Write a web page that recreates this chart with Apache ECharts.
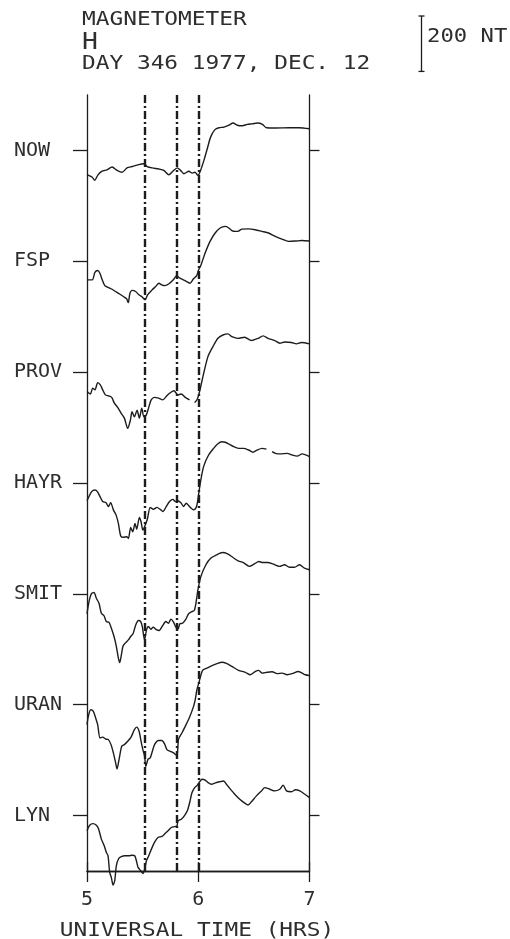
<!DOCTYPE html>
<html><head><meta charset="utf-8">
<script src="https://cdn.jsdelivr.net/npm/echarts@6/dist/echarts.min.js"></script>
<style>html,body{margin:0;padding:0;background:#fff}#c{width:510px;height:939px}</style>
</head><body><div id="c"></div>
<script>
// ---- data (hours UT, H deviation in nT from each station's baseline) ----
const stationNames = ['NOW', 'FSP', 'PROV', 'HAYR', 'SMIT', 'URAN', 'LYN'];
const stationNOW = [[5.00,-87],[5.045,-96],[5.069,-108],[5.099,-88],[5.135,-75],[5.18,-70],[5.225,-60],[5.27,-72],[5.315,-79],[5.36,-63],[5.405,-58],[5.465,-51],[5.511,-48],[5.541,-58],[5.586,-63],[5.646,-67],[5.691,-72],[5.736,-88],[5.772,-75],[5.811,-63],[5.841,-72],[5.871,-84],[5.916,-75],[5.946,-82],[5.97,-79],[5.997,-90],[6.021,-72],[6.051,-36],[6.081,6],[6.111,48],[6.15,75],[6.186,82],[6.231,84],[6.276,91],[6.312,99],[6.351,91],[6.396,89],[6.441,94],[6.486,96],[6.532,99],[6.577,94],[6.613,82],[6.697,81],[6.817,82],[6.907,82],[7.0,78]];
const stationFSP = [[5.0,-67],[5.047,-67],[5.071,-40],[5.095,-33],[5.116,-43],[5.137,-67],[5.161,-88],[5.221,-100],[5.281,-115],[5.326,-127],[5.356,-135],[5.371,-149],[5.386,-115],[5.407,-105],[5.437,-109],[5.467,-121],[5.497,-129],[5.521,-139],[5.545,-121],[5.581,-105],[5.617,-91],[5.647,-79],[5.671,-85],[5.701,-88],[5.737,-81],[5.776,-67],[5.806,-52],[5.836,-61],[5.866,-67],[5.896,-73],[5.926,-79],[5.956,-64],[5.986,-52],[6.001,-33],[6.025,-13],[6.061,29],[6.106,72],[6.152,102],[6.197,120],[6.242,126],[6.272,121],[6.302,111],[6.332,108],[6.362,109],[6.392,116],[6.452,117],[6.512,114],[6.572,108],[6.632,102],[6.692,90],[6.752,80],[6.812,72],[6.872,73],[6.932,75],[7.0,73]];
const stationPROV = [[5.0,-70],[5.03,-79],[5.051,-58],[5.072,-64],[5.096,-38],[5.12,-46],[5.141,-64],[5.165,-82],[5.195,-86],[5.222,-91],[5.246,-112],[5.276,-127],[5.306,-148],[5.336,-166],[5.366,-203],[5.39,-173],[5.405,-143],[5.426,-161],[5.45,-137],[5.471,-166],[5.492,-130],[5.511,-161],[5.532,-155],[5.553,-130],[5.577,-100],[5.607,-91],[5.643,-94],[5.682,-100],[5.712,-88],[5.742,-76],[5.781,-67],[5.817,-82],[5.847,-79],[5.883,-91],[5.922,-100],[5.945,null],[5.967,-110],[5.991,-98],[6.012,-70],[6.042,-16],[6.087,56],[6.132,92],[6.177,122],[6.222,134],[6.267,138],[6.303,128],[6.357,122],[6.417,126],[6.477,114],[6.538,122],[6.583,131],[6.628,122],[6.688,114],[6.733,104],[6.778,109],[6.838,107],[6.883,102],[6.928,107],[7.0,102]];
const stationHAYR = [[5.0,-64],[5.042,-31],[5.072,-25],[5.093,-31],[5.117,-49],[5.141,-67],[5.171,-71],[5.192,-85],[5.213,-71],[5.237,-97],[5.261,-115],[5.282,-146],[5.303,-191],[5.327,-196],[5.357,-194],[5.372,-200],[5.393,-160],[5.411,-176],[5.432,-146],[5.447,-167],[5.471,-124],[5.486,-140],[5.502,-170],[5.523,-152],[5.544,-128],[5.568,-88],[5.598,-95],[5.628,-88],[5.658,-95],[5.682,-103],[5.712,-85],[5.742,-67],[5.772,-59],[5.796,-67],[5.814,-64],[5.844,-71],[5.868,-85],[5.892,-73],[5.928,-88],[5.958,-97],[5.982,-88],[5.994,-67],[6.018,-1],[6.048,59],[6.093,101],[6.138,125],[6.174,141],[6.213,149],[6.243,147],[6.273,141],[6.318,131],[6.363,125],[6.408,125],[6.453,119],[6.492,111],[6.529,119],[6.574,125],[6.613,122],[6.638,null],[6.664,113],[6.694,107],[6.739,105],[6.799,107],[6.844,101],[6.889,97],[6.934,105],[7.0,95]];
const stationSMIT = [[5.0,-72],[5.018,-28],[5.039,0],[5.063,5],[5.084,-16],[5.108,-34],[5.129,-70],[5.153,-79],[5.174,-100],[5.198,-103],[5.219,-124],[5.243,-154],[5.264,-190],[5.282,-232],[5.294,-248],[5.309,-220],[5.324,-188],[5.348,-176],[5.372,-166],[5.393,-154],[5.414,-144],[5.438,-112],[5.462,-96],[5.483,-100],[5.498,-120],[5.517,-166],[5.535,-130],[5.553,-118],[5.574,-128],[5.595,-120],[5.619,-128],[5.649,-132],[5.679,-115],[5.709,-100],[5.733,-106],[5.754,-91],[5.775,-100],[5.799,-120],[5.817,-128],[5.835,-108],[5.859,-106],[5.889,-91],[5.913,-72],[5.943,-64],[5.964,-60],[5.979,-34],[5.997,14],[6.024,63],[6.069,105],[6.114,129],[6.165,141],[6.219,149],[6.264,144],[6.309,132],[6.354,120],[6.405,113],[6.459,99],[6.505,108],[6.544,117],[6.58,113],[6.625,113],[6.67,108],[6.73,99],[6.775,105],[6.82,96],[6.865,96],[6.91,105],[6.955,93],[7.0,87]];
const stationURAN = [[5.0,-72],[5.012,-42],[5.033,-18],[5.057,-24],[5.078,-48],[5.096,-72],[5.117,-120],[5.141,-117],[5.168,-124],[5.192,-126],[5.216,-144],[5.237,-174],[5.258,-211],[5.27,-232],[5.288,-198],[5.312,-150],[5.336,-144],[5.366,-132],[5.396,-117],[5.426,-90],[5.447,-81],[5.468,-96],[5.486,-132],[5.502,-162],[5.517,-184],[5.529,-223],[5.547,-198],[5.568,-192],[5.583,-174],[5.607,-144],[5.643,-129],[5.673,-129],[5.697,-141],[5.718,-162],[5.748,-168],[5.778,-174],[5.808,-184],[5.823,-124],[5.853,-102],[5.883,-78],[5.919,-48],[5.958,-6],[5.973,18],[5.988,54],[6.009,84],[6.039,124],[6.078,132],[6.123,141],[6.168,148],[6.213,153],[6.258,148],[6.303,138],[6.363,124],[6.423,117],[6.468,108],[6.514,120],[6.544,124],[6.574,114],[6.619,117],[6.664,119],[6.709,112],[6.754,114],[6.799,108],[6.844,112],[6.898,120],[6.934,114],[6.964,108],[7.0,105]];
const stationLYN = [[5.0,-55],[5.024,-35],[5.054,-29],[5.084,-35],[5.105,-49],[5.129,-85],[5.153,-107],[5.174,-133],[5.189,-145],[5.204,-205],[5.219,-224],[5.234,-251],[5.249,-236],[5.264,-181],[5.285,-155],[5.309,-148],[5.339,-145],[5.375,-145],[5.405,-143],[5.429,-145],[5.444,-163],[5.459,-187],[5.483,-199],[5.504,-209],[5.519,-193],[5.534,-163],[5.555,-145],[5.579,-121],[5.609,-95],[5.638,-79],[5.674,-75],[5.704,-64],[5.728,-55],[5.758,-43],[5.788,-40],[5.809,-37],[5.818,-19],[5.848,-13],[5.878,1],[5.902,17],[5.923,47],[5.944,83],[5.968,101],[5.992,110],[6.013,122],[6.034,131],[6.058,129],[6.088,119],[6.118,113],[6.148,117],[6.193,122],[6.229,125],[6.253,113],[6.283,98],[6.328,77],[6.373,59],[6.418,45],[6.448,38],[6.478,50],[6.523,71],[6.568,89],[6.598,101],[6.643,95],[6.688,89],[6.733,95],[6.763,110],[6.793,89],[6.838,86],[6.874,93],[6.913,89],[6.958,77],[7.0,65]];
const eventTimes = [5.52, 5.81, 5.995];
const timeTicks = [5, 6, 7];
const scaleBarNT = 200;
const stationSpacingNT = 400;

const titleLines = ['MAGNETOMETER', 'H', 'DAY 346 1977, DEC. 12'];
const scaleLabel = '200 NT';
const xAxisTitle = 'UNIVERSAL TIME (HRS)';

// ---- build ----
const FONT = '"DejaVu Sans Mono", "Liberation Mono", monospace';
const INK = '#1c1c1c';
const TEXT_INK = '#2e2e2e';
const stationData = [stationNOW, stationFSP, stationPROV, stationHAYR, stationSMIT, stationURAN, stationLYN];
const nSt = stationNames.length;
const offsets = stationNames.map((_, i) => (nSt - 1 - i) * stationSpacingNT + stationSpacingNT / 2);
const yMax = nSt * stationSpacingNT;

const chart = echarts.init(document.getElementById('c'), null, {renderer: 'canvas'});

const series = stationNames.map((name, i) => ({
  name: name,
  type: 'line',
  data: stationData[i].map(p => [p[0], p[1] == null ? null : p[1] + offsets[i]]),
  showSymbol: false,
  symbol: 'none',
  smooth: 0.25,
  clip: false,
  connectNulls: false,
  animation: false,
  silent: true,
  lineStyle: {color: INK, width: 1.4}
}));
series[0].markLine = {
  silent: true,
  animation: false,
  symbol: ['none', 'none'],
  label: {show: false},
  lineStyle: {color: INK, width: 2.4, type: [8, 3, 2, 3]},
  data: eventTimes.map(t => ({xAxis: t}))
};

const axisLineStyle = {color: INK, width: 1.3};
chart.setOption({
  animation: false,
  backgroundColor: '#fff',
  grid: {left: 87, right: 200.5, top: 95, bottom: 68, containLabel: false},
  xAxis: [
    {type: 'value', position: 'bottom', min: timeTicks[0], max: timeTicks[timeTicks.length - 1], interval: 1,
     axisLine: {show: true, lineStyle: axisLineStyle},
     axisTick: {show: true, inside: false, length: 11, lineStyle: axisLineStyle},
     axisLabel: {show: true, fontFamily: FONT, fontSize: 20, color: TEXT_INK, margin: 19},
     splitLine: {show: false}},
    {type: 'value', position: 'top', min: timeTicks[0], max: timeTicks[timeTicks.length - 1], interval: 1,
     axisLine: {show: true, lineStyle: axisLineStyle},
     axisTick: {show: true, inside: false, length: 9, lineStyle: axisLineStyle},
     axisLabel: {show: false}, splitLine: {show: false}}
  ],
  yAxis: [
    {type: 'value', position: 'left', min: 0, max: yMax,
     axisLine: {show: true, lineStyle: axisLineStyle},
     axisTick: {show: true, inside: false, length: 14, lineStyle: axisLineStyle, customValues: offsets},
     axisLabel: {show: true, customValues: offsets, formatter: v => stationNames[offsets.indexOf(v)] || '',
                 align: 'left', margin: 73, fontFamily: FONT, fontSize: 20, color: TEXT_INK, padding: [0, 0, 11, 0]},
     splitLine: {show: false}},
    {type: 'value', position: 'right', min: 0, max: yMax,
     axisLine: {show: true, lineStyle: axisLineStyle},
     axisTick: {show: true, inside: false, length: 10, lineStyle: axisLineStyle, customValues: offsets},
     axisLabel: {show: false}, splitLine: {show: false}}
  ],
  series: series
});

// scale bar length from the axis scale
const p0 = chart.convertToPixel({yAxisIndex: 0}, 0);
const p1 = chart.convertToPixel({yAxisIndex: 0}, scaleBarNT);
const barLen = Math.abs(p0 - p1);
const barX = 421.5, barTop = 16;

function txt(text, x, y, size, sx, align) {
  return {type: 'text', x: x, y: y, scaleX: sx, silent: true,
    style: {text: text, font: size + 'px ' + FONT, fill: TEXT_INK, align: align || 'left', textAlign: align || 'left',
            verticalAlign: 'middle', textVerticalAlign: 'middle'}};
}
chart.setOption({
  graphic: [
    txt(titleLines[0], 82, 20.5, 19, 1.2),
    txt(titleLines[1], 82, 43.5, 23, 1.15),
    txt(titleLines[2], 82, 64.5, 19, 1.2),
    txt(scaleLabel, 427, 37, 19, 1.17),
    txt(xAxisTitle, 197, 931.5, 19, 1.2, 'center'),
    {type: 'line', silent: true, shape: {x1: barX, y1: barTop, x2: barX, y2: barTop + barLen}, style: {stroke: INK, lineWidth: 1.3}},
    {type: 'line', silent: true, shape: {x1: barX - 3, y1: barTop, x2: barX + 3, y2: barTop}, style: {stroke: INK, lineWidth: 1.3}},
    {type: 'line', silent: true, shape: {x1: barX - 3, y1: barTop + barLen, x2: barX + 3, y2: barTop + barLen}, style: {stroke: INK, lineWidth: 1.3}}
  ]
});
</script>
</body></html>
